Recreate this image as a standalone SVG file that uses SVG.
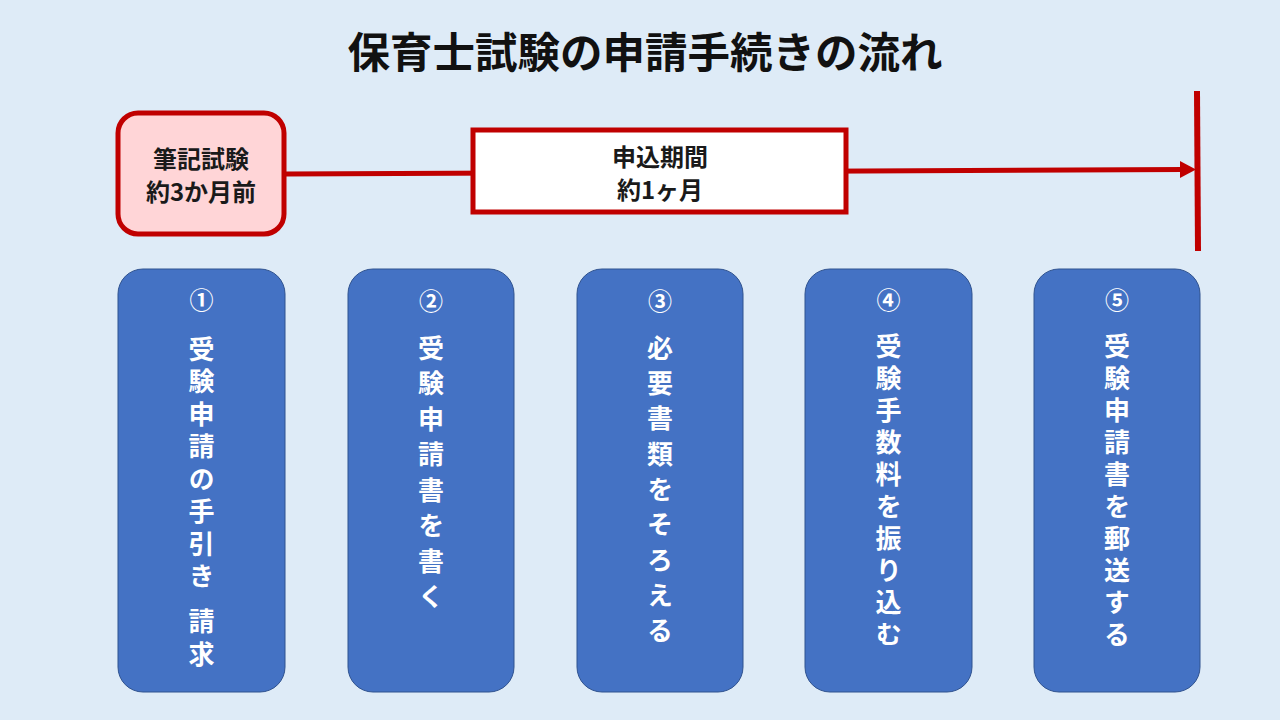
<svg xmlns="http://www.w3.org/2000/svg" width="1280" height="720" viewBox="0 0 1280 720">
<style>
  .jp{font-family:"Noto Sans CJK JP","Noto Sans",sans-serif;font-weight:bold;}
  .title{font-size:42.5px;fill:#111;}
  .lbl{font-size:24px;fill:#1a1a1a;}
  .step{fill:#4472C4;stroke:#2F528F;stroke-width:1;}
  .vt{font-size:26px;fill:#fff;writing-mode:vertical-rl;}
  .num{font-size:24px;fill:#fff;}
  .red{stroke:#C00000;}
</style>
<rect width="1280" height="720" fill="#DEEBF7"/>
<text class="jp title" x="645" y="49" text-anchor="middle" dominant-baseline="central">保育士試験の申請手続きの流れ</text>

<g id="connectors">
  <line class="red" x1="286" y1="174" x2="1184" y2="169.5" stroke-width="5"/>
  <polygon points="1180,161 1196,169.5 1180,178" fill="#C00000"/>
  <line class="red" x1="1197" y1="91" x2="1198" y2="251" stroke-width="6"/>
</g>

<g id="exam">
  <rect x="118" y="113" width="166" height="121" rx="20" fill="#FFD5D7" stroke="#C00000" stroke-width="5"/>
  <text class="jp lbl" x="201" y="157" text-anchor="middle" dominant-baseline="central">筆記試験</text>
  <text class="jp lbl" x="201" y="190" text-anchor="middle" dominant-baseline="central">約3か月前</text>
</g>

<g id="period">
  <rect x="473" y="130" width="373" height="82" fill="#FFFFFF" stroke="#C00000" stroke-width="5"/>
  <text class="jp lbl" x="660" y="155" text-anchor="middle" dominant-baseline="central">申込期間</text>
  <text class="jp lbl" x="660" y="188" text-anchor="middle" dominant-baseline="central">約1ヶ月</text>
</g>

<g id="step1">
  <rect class="step" x="118" y="269" width="167" height="423" rx="25"/>
  <text class="jp num" x="201.5" y="298" text-anchor="middle" dominant-baseline="central">①</text>
  <text class="jp vt" x="201.5" y="336" letter-spacing="6.5">受験申請の手引き 請求</text>
</g>

<g id="step2">
  <rect class="step" x="348" y="269" width="166" height="423" rx="25"/>
  <text class="jp num" x="431" y="299" text-anchor="middle" dominant-baseline="central">②</text>
  <text class="jp vt" x="431" y="335" letter-spacing="9.5">受験申請書を書く</text>
</g>

<g id="step3">
  <rect class="step" x="577" y="269" width="166" height="423" rx="25"/>
  <text class="jp num" x="660" y="299" text-anchor="middle" dominant-baseline="central">③</text>
  <text class="jp vt" x="660" y="335" letter-spacing="9.3">必要書類をそろえる</text>
</g>

<g id="step4">
  <rect class="step" x="805" y="269" width="167" height="423" rx="25"/>
  <text class="jp num" x="888.5" y="298" text-anchor="middle" dominant-baseline="central">④</text>
  <text class="jp vt" x="888.5" y="333" letter-spacing="6">受験手数料を振り込む</text>
</g>

<g id="step5">
  <rect class="step" x="1034" y="269" width="166" height="423" rx="25"/>
  <text class="jp num" x="1117" y="298" text-anchor="middle" dominant-baseline="central">⑤</text>
  <text class="jp vt" x="1117" y="333" letter-spacing="6">受験申請書を郵送する</text>
</g>
</svg>
